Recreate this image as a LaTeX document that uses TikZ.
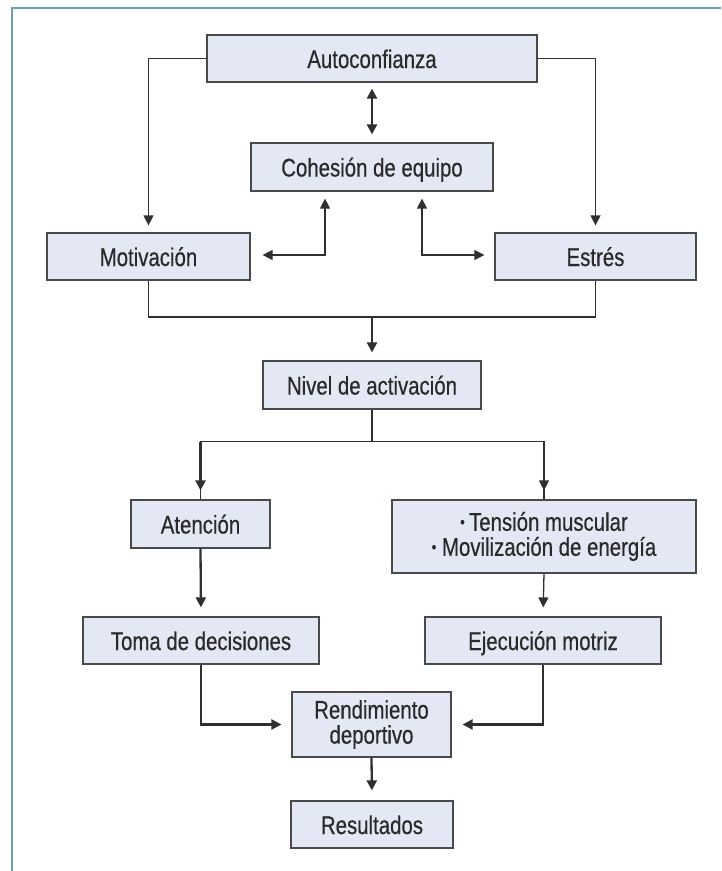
\documentclass[tikz,border=0pt]{standalone}
\usepackage{fontspec}
\setmainfont[FakeStretch=0.8,FakeBold=0.5]{Liberation Sans}
\usetikzlibrary{arrows.meta,calc}

\definecolor{boxfill}{HTML}{E3E8F4}
\definecolor{boxline}{HTML}{4A4A4A}
\definecolor{wire}{HTML}{303030}
\definecolor{txt}{HTML}{2A2A2A}
\definecolor{frame}{HTML}{6A9FAE}

\newcommand{\bul}{\raisebox{0.12em}{\scalebox{0.65}{•}}}

\tikzset{
  boxbase/.style={draw=boxline, line width=1.2pt, fill=boxfill, rectangle,
    inner sep=0pt, text=txt, align=center,
    font=\fontsize{25.5}{25}\selectfont},
  box/.style={boxbase, text height=24pt, text depth=5pt},
  twoline/.style={boxbase},
  thinw/.style={draw=wire, line width=1.3pt},
  thickw/.style={draw=wire, line width=2.3pt},
  tip/.style={-{Triangle[length=10pt,width=10pt]}},
  tips/.style={{Triangle[length=10pt,width=10pt]}-{Triangle[length=10pt,width=10pt]}},
}

\begin{document}
\begin{tikzpicture}[x=1pt, y=-1pt]
  \useasboundingbox (0,0) rectangle (721,871);
  % outer frame (open on the right and bottom)
  \draw[frame, line width=2pt] (11.5,871) -- (11.5,7.5) -- (721,7.5);

  % boxes
  \node[box, minimum width=330pt, minimum height=47pt] (auto) at (372,58.5) {Autoconfianza};
  \node[box, minimum width=242pt, minimum height=48pt] (cohe) at (372,167) {Cohesión de equipo};
  \node[box, minimum width=203pt, minimum height=47pt] (moti) at (148.5,256.5) {Motivación};
  \node[box, minimum width=201pt, minimum height=47pt] (estr) at (595.5,256.5) {Estrés};
  \node[box, minimum width=218pt, minimum height=48pt] (nivel) at (372,385) {Nivel de activación};
  \node[box, minimum width=139pt, minimum height=48pt] (aten) at (200.5,524) {Atención};
  \node[twoline, minimum width=304pt, minimum height=73pt] (tens) at (544,536.5)
    {\bul\,Tensión muscular\\\bul\ Movilización de energía};
  \node[box, minimum width=236pt, minimum height=47pt] (toma) at (201,640.5) {Toma de decisiones};
  \node[box, minimum width=236pt, minimum height=47pt] (ejec) at (543,640.5) {Ejecución motriz};
  \node[twoline, minimum width=159pt, minimum height=65pt] (rend) at (371.5,724.5) {Rendimiento\\deportivo};
  \node[box, minimum width=162pt, minimum height=47pt] (resu) at (372,824.5) {Resultados};

  % Autoconfianza to Motivación and Estrés
  \draw[thinw, tip, shorten >=7pt] (auto.west) -| (moti.north);
  \draw[thinw, tip, shorten >=7pt] (auto.east) -| (estr.north);
  % Autoconfianza <-> Cohesión
  \draw[thickw, tips, shorten <=6pt, shorten >=8pt] (auto.south) -- (cohe.north);
  % Cohesión <-> Motivación / Estrés
  \coordinate (cl) at ($(cohe.south)+(-47,7)$);
  \coordinate (cr) at ($(cohe.south)+(50,7)$);
  \coordinate (ml) at ($(moti.east)+(12,-1.5)$);
  \coordinate (er) at ($(estr.west)+(-10,-1.5)$);
  \draw[thinw, tips] (ml) -| (cl);
  \draw[thinw, tips] (er) -| (cr);
  % Motivación and Estrés merge into Nivel de activación
  \coordinate (mj) at (372,317);
  \draw[thinw] (moti.south) |- (mj) -| (estr.south);
  \draw[thickw, tip, shorten >=8pt] (mj) -- (nivel.north);
  % Nivel de activación branches
  \coordinate (nj) at ($(nivel.south)+(0,32)$);
  \draw[thickw] (nivel.south) -- (nj);
  \draw[thinw] (nj) -| (tens.north);
  \draw[thinw] (nj) -| (aten.north);
  \draw[thickw, tip, shorten >=9pt] (aten.north |- nj) -- (aten.north);
  \draw[thinw, tip, shorten >=9pt] (tens.north |- nj) -- (tens.north);
  % chains to the decisions and execution
  \draw[thickw, tip, shorten >=9pt] (aten.south) -- (toma.north);
  \draw[thinw, tip, shorten >=9pt] (tens.south) -- (ejec.north);
  % into Rendimiento deportivo
  \draw[thickw, tip, shorten >=10pt] (toma.south) |- (rend.west);
  \draw[thickw, tip, shorten >=11pt] (ejec.south) |- (rend.east);
  \draw[thickw, tip, shorten >=10pt] (rend.south) -- (resu.north);
\end{tikzpicture}
\end{document}
